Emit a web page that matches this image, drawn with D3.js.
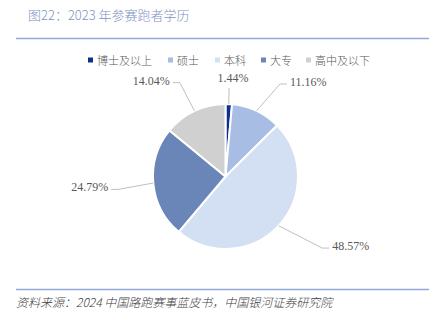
<!DOCTYPE html>
<html>
<head>
<meta charset="utf-8">
<script src="https://cdn.jsdelivr.net/npm/d3@7"></script>
<style>
  html, body { margin: 0; padding: 0; background: #fff; }
  svg { display: block; }
</style>
</head>
<body>
<svg id="chart" width="429" height="324"></svg>
<script>
// Education level of 2023 race runners
const categories = ["博士及以上", "硕士", "本科", "大专", "高中及以下"];
const shares = [1.44, 11.16, 48.57, 24.79, 14.04];
const valueLabels = ["1.44%", "11.16%", "48.57%", "24.79%", "14.04%"];

// Slice colours, in category order
const colors = ["#0f2f8c", "#a8bde4", "#d3dff2", "#6a86b9", "#d1d0d1"];
// Leader-line elbow placement: radius factor and angle nudge (degrees)
const elbowRadius = [1.22, 1.48, 1.66, 1.49, 1.44];
const elbowNudge = [-0.3, 5.2, -6.3, -1.7, -0.7];

const svg = d3.select("#chart");
const W = 429, H = 324;
const cjk = "'Noto Sans CJK SC', sans-serif";

// Title and rules
svg.append("text")
  .attr("x", 28).attr("y", 20)
  .attr("font-family", cjk)
  .attr("font-size", 13)
  .attr("font-weight", 300)
  .attr("fill", "#8092c2")
  .text("图22：2023 年参赛跑者学历");
svg.append("line")
  .attr("x1", 16).attr("x2", W).attr("y1", 38.5).attr("y2", 38.5)
  .attr("stroke", "#8fa8d8").attr("stroke-width", 1.5);
svg.append("line")
  .attr("x1", 16).attr("x2", W).attr("y1", 289.5).attr("y2", 289.5)
  .attr("stroke", "#8fa8d8").attr("stroke-width", 1.5);
svg.append("text")
  .attr("x", 16).attr("y", 307)
  .attr("font-family", cjk)
  .attr("font-size", 12)
  .attr("font-weight", 300)
  .attr("font-style", "italic")
  .attr("fill", "#404040")
  .text("资料来源：2024 中国路跑赛事蓝皮书，中国银河证券研究院");

// Legend
const legendX = [88, 168, 215, 261, 306];
const legend = svg.append("g")
  .attr("font-family", cjk)
  .attr("font-size", 11)
  .attr("font-weight", 300)
  .attr("fill", "#595959");
categories.forEach((c, i) => {
  legend.append("rect")
    .attr("x", legendX[i]).attr("y", 57.5)
    .attr("width", 5).attr("height", 5)
    .attr("fill", colors[i]);
  legend.append("text")
    .attr("x", legendX[i] + 9).attr("y", 60)
    .attr("dominant-baseline", "central")
    .text(c);
});

// Pie
const cx = 225.5, cy = 176.5, r = 72.5;
const pie = d3.pie().sort(null).value(d => d);
const arcs = pie(shares);
const arc = d3.arc().innerRadius(0).outerRadius(r);
const g = svg.append("g").attr("transform", `translate(${cx},${cy})`);

g.selectAll("path.slice")
  .data(arcs)
  .join("path")
  .attr("class", "slice")
  .attr("d", arc)
  .attr("fill", (d, i) => colors[i])
  .attr("stroke", "#fff")
  .attr("stroke-width", 2)
  .attr("stroke-linejoin", "round");

// Leader lines and value labels
const pt = (a, rad) => [rad * Math.sin(a), -rad * Math.cos(a)];
arcs.forEach((d, i) => {
  const mid = (d.startAngle + d.endAngle) / 2;
  const p0 = pt(mid, r);
  const ea = mid + elbowNudge[i] * Math.PI / 180;
  const p1 = pt(ea, r * elbowRadius[i]);
  const s = Math.sin(ea);
  let pts, tx, ty, anchor;
  if (Math.abs(s) < 0.15) {
    pts = [p0, p1];
    tx = p1[0] + 4; ty = p1[1] - 10; anchor = "middle";
  } else {
    const dir = s > 0 ? 1 : -1;
    const p2 = [p1[0] + dir * 7, p1[1]];
    pts = [p0, p1, p2];
    tx = p2[0] + dir * 3; ty = p1[1] - 2; anchor = dir > 0 ? "start" : "end";
  }
  g.append("path")
    .attr("d", d3.line()(pts))
    .attr("fill", "none")
    .attr("stroke", "#bfbfbf")
    .attr("stroke-width", 1);
  g.append("text")
    .attr("x", tx).attr("y", ty)
    .attr("text-anchor", anchor)
    .attr("dominant-baseline", "central")
    .attr("font-family", "'Liberation Serif', 'Times New Roman', serif")
    .attr("font-size", 12)
    .attr("fill", "#595959")
    .text(valueLabels[i]);
});
</script>
</body>
</html>
